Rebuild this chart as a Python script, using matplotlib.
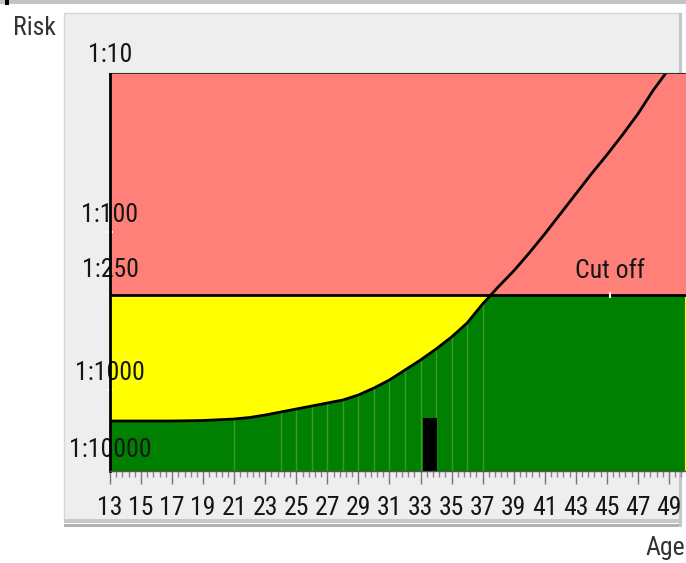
import numpy as np
import matplotlib.pyplot as plt
from matplotlib.patches import Rectangle
from matplotlib.ticker import MultipleLocator
from matplotlib import font_manager

names = {f.name for f in font_manager.fontManager.ttflist}
narrow = [n for n in ['Liberation Sans Narrow', 'DejaVu Sans Condensed', 'Roboto Condensed'] if n in names]
plt.rcParams['font.family'] = narrow + ['Liberation Sans', 'DejaVu Sans']

# === Data (y is a position on the risk scale, 0 = bottom of chart) ===
ages = [13, 15, 17, 19, 21, 22, 23, 24, 25, 26, 27, 28, 29, 30, 31, 32, 33,
        34, 35, 36, 37, 38, 39, 40, 41, 42, 43, 44, 45, 46, 47, 48, 49, 50]
risk = [50, 50, 50, 50.5, 52, 53.5, 56, 59, 62, 65, 68, 71, 76, 83, 91, 101, 111,
        122, 134, 148, 167, 184, 200, 218, 237, 257, 277, 297, 316, 336, 357, 381, 402, 423]
cutoff = 176
bar_ages = [21, 24, 25, 26, 27, 28, 29, 30, 31, 32, 33, 34, 35, 36, 37]
patient_age = 33.6
patient_height = 53

risk_labels = ['1:10', '1:100', '1:250', '1:1000', '1:10000']
risk_label_pos = [409, 249, 194, 91, 14]
spine_marks = [239, 81]
xtick_ages = list(range(13, 50, 2))

W, H = 686, 563
fig = plt.figure(figsize=(W / 100, H / 100), dpi=100)
fig.patch.set_facecolor('white')
fs = 18.5
txt = '#151515'


def px_rect(x0, y0, x1, y1, **kw):
    # rectangle given in pixel coordinates of the figure (y down)
    fig.add_artist(Rectangle((x0 / W, 1 - y1 / H), (x1 - x0) / W, (y1 - y0) / H,
                             transform=fig.transFigure, zorder=-5, **kw))


# window chrome
px_rect(0, 0, W, 4, facecolor='#c3c3c3', edgecolor='none')
px_rect(5, 0, 9, 5, facecolor='black', edgecolor='none')
px_rect(64, 13, 681, 521, facecolor='#eeeeee', edgecolor='#d6d6d6', lw=1)
px_rect(64, 519, 682, 523, facecolor='#c8c8c8', edgecolor='none')
px_rect(64, 524, 682, 527, facecolor='#b2b2b2', edgecolor='none')
px_rect(679, 13, 682, 527, facecolor='#c6c6c6', edgecolor='none')

ax = fig.add_axes([110 / W, 1 - 471 / H, (W - 110) / W, (471 - 74) / H])
ax.patch.set_alpha(0)
ax.set_xlim(13, 50.1)
ax.set_ylim(0, 397)

# zones
ax.axhspan(0, cutoff, color='#ffff00', lw=0, zorder=0.5)
ax.fill_between(ages, 0, risk, color='#008000', lw=0, zorder=0.6)
risk_at = dict(zip(ages, risk))
ax.vlines(bar_ages, 0, [min(risk_at[a], cutoff) for a in bar_ages],
          color='#3a9a22', lw=1, zorder=0.65)
ax.axhspan(cutoff, 397, color='#ff8078', lw=0, zorder=0.7)
ax.bar([patient_age], [patient_height], width=0.9, color='black', zorder=0.8)
ax.axhline(cutoff, color='black', lw=2, zorder=1)
ax.plot([45.2], [cutoff], marker='|', color='white', ms=5, mew=1.5, zorder=1.05)
ax.plot(ages, risk, color='black', lw=2, zorder=1.1)
ax.text(45.2, 193, 'Cut off', ha='center', va='baseline', fontsize=fs,
        color=txt, zorder=1.2)

# y labels sit centred on the spine
for lab, pos in zip(risk_labels, risk_label_pos):
    ax.text(13, pos, lab, ha='center', va='baseline', fontsize=fs,
            color=txt, clip_on=False, zorder=2)

ax.set_yticks(spine_marks)
ax.set_yticklabels([])
ax.tick_params(axis='y', direction='inout', length=4, color='white', width=1.5)

# x axis
ax.xaxis.set_major_locator(MultipleLocator(2, offset=1))
ax.xaxis.set_minor_locator(MultipleLocator(0.4, offset=0.2))
ax.tick_params(axis='x', which='major', length=9, width=1, color='#777777',
               labelsize=fs, labelcolor=txt, pad=9)
ax.tick_params(axis='x', which='minor', length=4.5, width=1, color='#888888')

top = ax.secondary_xaxis('top')
top.set_xticks(xtick_ages)
top.tick_params(direction='in', length=3, color='#555555', labeltop=False)
top.spines['top'].set_color('#333333')
top.spines['top'].set_linewidth(1.5)

ax.spines['right'].set_visible(False)
ax.spines['top'].set_visible(False)
ax.spines['left'].set_color('black')
ax.spines['left'].set_linewidth(2)
ax.spines['bottom'].set_color('#555555')
ax.spines['bottom'].set_linewidth(1)

fig.text(13 / W, 1 - 35 / H, 'Risk', ha='left', va='baseline', fontsize=fs, color='#333333')
fig.text(685 / W, 1 - 555 / H, 'Age', ha='right', va='baseline', fontsize=fs, color='#333333')

fig.savefig('out.png', dpi=100, facecolor='white')
